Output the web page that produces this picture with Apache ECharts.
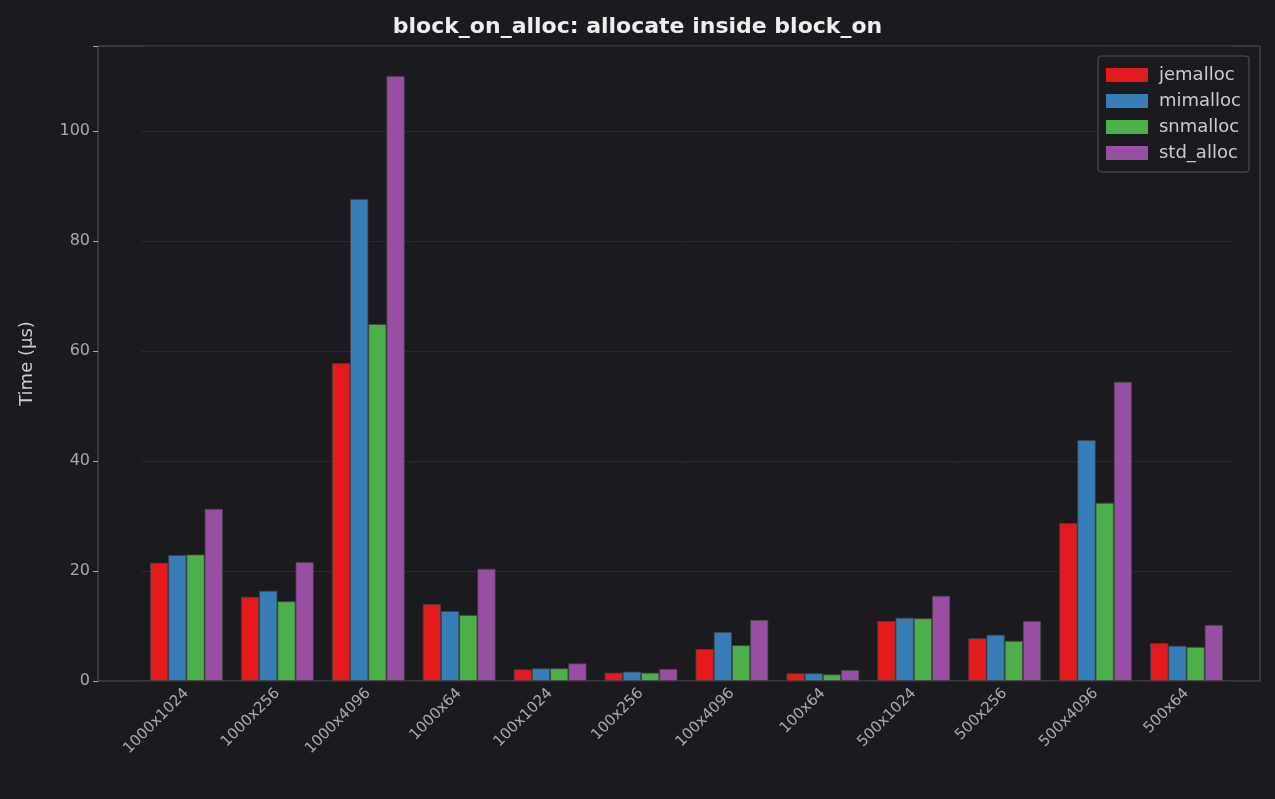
<!DOCTYPE html><html><head><meta charset="utf-8">
<script src="https://cdn.jsdelivr.net/npm/echarts@6/dist/echarts.min.js"></script>
<style>html,body{margin:0;background:#1b1a1f}#c{width:1275px;height:799px}</style></head><body><div id="c"></div>
<script>
const categories=["1000x1024","1000x256","1000x4096","1000x64","100x1024","100x256","100x4096","100x64","500x1024","500x256","500x4096","500x64"];
const jemalloc=[21.5,15.3,57.8,14,2.1,1.5,5.8,1.4,10.9,7.8,28.7,6.9];
const mimalloc=[22.9,16.4,87.6,12.7,2.3,1.7,8.9,1.4,11.5,8.4,43.8,6.4];
const snmalloc=[23,14.5,64.9,12,2.3,1.5,6.5,1.2,11.4,7.3,32.4,6.2];
const std_alloc=[31.3,21.6,110,20.4,3.2,2.2,11.1,2.0,15.5,10.9,54.4,10.2];
const names=["jemalloc","mimalloc","snmalloc","std_alloc"];
const data=[jemalloc,mimalloc,snmalloc,std_alloc];
const colors=["#e41a1c","#377eb8","#4daf4a","#984ea3"];
const ch=echarts.init(document.getElementById('c'));
ch.setOption({
backgroundColor:"#1b1a1f",
title:{text:"block_on_alloc: allocate inside block_on",left:"center",top:11,textStyle:{color:"#eeeeee",fontSize:22,fontWeight:"bold",fontFamily:"DejaVu Sans"}},
legend:{right:26,top:56,orient:"vertical",itemWidth:42,itemHeight:14,itemGap:8,padding:[10,8],backgroundColor:"#1b1a1f",borderColor:"#555",borderWidth:1,borderRadius:3,textStyle:{color:"#cccccc",fontSize:18,fontFamily:"DejaVu Sans",padding:[0,0,0,6]},data:names,icon:"rect",itemStyle:{borderWidth:0}},
grid:[{left:98,right:15,top:46,bottom:118,show:true,borderColor:"#555",borderWidth:1},
{left:141,right:43,top:46,bottom:118}],
xAxis:[{gridIndex:0,type:"value",show:false},
{gridIndex:1,type:"category",data:categories,axisLine:{show:false},axisTick:{alignWithLabel:true,length:5,lineStyle:{color:"#aaa"}},axisLabel:{color:"#aaaaaa",fontSize:15,rotate:45,fontFamily:"DejaVu Sans",margin:10}}],
yAxis:[{gridIndex:0,type:"value",show:false},
{gridIndex:1,type:"value",min:0,max:115.45,interval:20,offset:43,name:"Time (µs)",nameLocation:"middle",nameGap:62,nameTextStyle:{color:"#cccccc",fontSize:18,fontFamily:"DejaVu Sans"},
axisLabel:{color:"#aaaaaa",fontSize:16,fontFamily:"DejaVu Sans",formatter:v=>v%20===0?v:""},axisLine:{show:false},axisTick:{show:true,length:5,lineStyle:{color:"#aaa"}},splitLine:{lineStyle:{color:"#2a292f"}}}],
series:names.map((n,i)=>({name:n,type:"bar",xAxisIndex:1,yAxisIndex:1,data:data[i],barGap:"0%",barCategoryGap:"20%",itemStyle:{color:colors[i],borderColor:"#444",borderWidth:0.8}}))
});
</script></body></html>
